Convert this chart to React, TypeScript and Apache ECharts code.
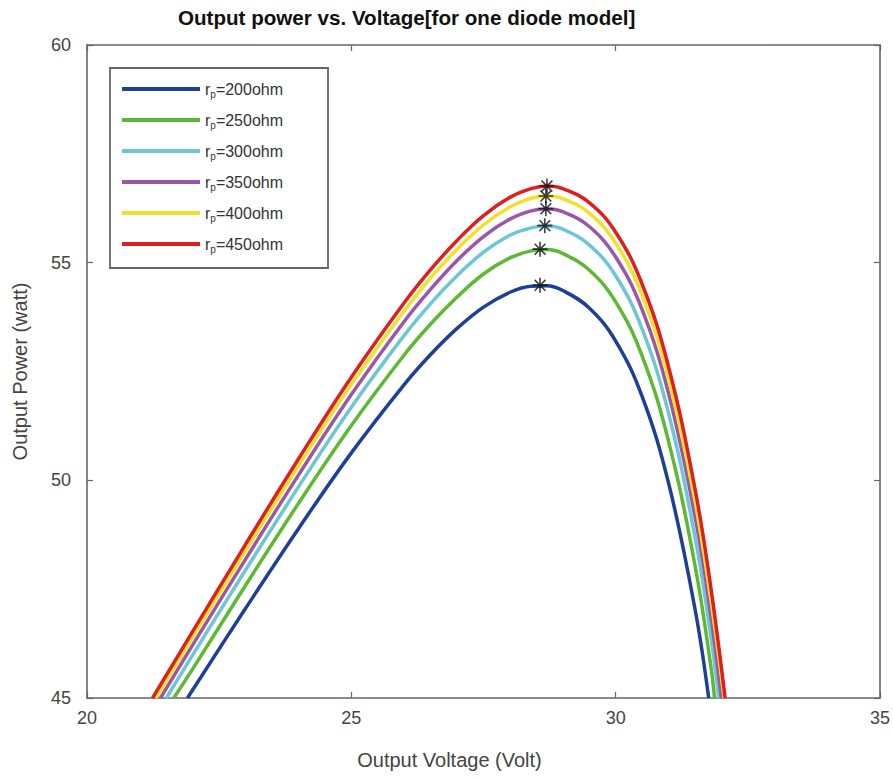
import React, { useEffect, useRef } from "react";
import * as echarts from "echarts";

// Output voltage (V) sample positions
const volts: number[] = [22.0, 23.0, 24.0, 25.0, 26.0, 26.5, 27.0, 27.5, 28.0, 28.4, 28.7, 29.0, 29.5, 30.0, 30.5, 31.0, 31.5, 31.8];

// Output power (W) of each curve at those voltages (null = not sampled / below the axis)
const p200: (number | null)[] = [null, 47.06, 48.89, 50.63, 52.2, 52.89, 53.49, 53.98, 54.32, 54.46, 54.47, 54.36, 53.96, 53.2, 51.93, 49.94, 47.05, null];
const p250: (number | null)[] = [45.67, 47.59, 49.47, 51.26, 52.88, 53.59, 54.21, 54.74, 55.11, 55.27, 55.3, 55.21, 54.83, 54.1, 52.86, 50.9, 48.05, 45.74];
const p300: (number | null)[] = [45.99, 47.94, 49.85, 51.68, 53.33, 54.06, 54.7, 55.24, 55.63, 55.8, 55.85, 55.77, 55.41, 54.7, 53.48, 51.54, 48.71, 46.42];
const p350: (number | null)[] = [46.22, 48.19, 50.12, 51.97, 53.65, 54.39, 55.05, 55.6, 56.0, 56.19, 56.24, 56.17, 55.83, 55.13, 53.92, 52.0, 49.18, 46.9];
const p400: (number | null)[] = [46.4, 48.38, 50.33, 52.2, 53.89, 54.65, 55.31, 55.87, 56.28, 56.48, 56.53, 56.47, 56.14, 55.45, 54.25, 52.34, 49.53, 47.26];
const p450: (number | null)[] = [46.53, 48.53, 50.49, 52.37, 54.08, 54.84, 55.51, 56.08, 56.5, 56.7, 56.76, 56.7, 56.38, 55.7, 54.51, 52.61, 49.81, 47.54];

// voltages where each curve crosses the 45 W axis (left, right)
const startV: number[] = [21.9, 21.64, 21.5, 21.39, 21.3, 21.24];
const endV: number[] = [31.76, 31.87, 31.95, 32.0, 32.05, 32.07];

// maximum power points (asterisks)
const peakV: number[] = [28.57, 28.57, 28.66, 28.68, 28.68, 28.7];
const peakP: number[] = [54.48, 55.31, 55.85, 56.24, 56.53, 56.76];

const seriesNames = ["200", "250", "300", "350", "400", "450"];
const powers = [p200, p250, p300, p350, p400, p450];
const colors = ["#1c3f98", "#5cb932", "#6cc6d6", "#9b56ab", "#f0e22c", "#e01e1e"];
const xTicks = { min: 20, max: 35, interval: 5 };
const yTicks = { min: 45, max: 60, interval: 5 };
const AXIS_MIN_P = 45;

const FONT = "Liberation Sans, Arial, sans-serif";
const ASTERISK = "path://M0,-1L0,1M-1,0L1,0M-0.72,-0.72L0.72,0.72M-0.72,0.72L0.72,-0.72";

export default function App() {
  const ref = useRef<HTMLDivElement>(null);
  useEffect(() => {
    if (!ref.current) return;
    const chart = echarts.init(ref.current, undefined, { renderer: "svg" });
    const axisLine = { show: true, lineStyle: { color: "#666", width: 1.6 } };
    const tick = { show: true, inside: true, length: 6, lineStyle: { color: "#666", width: 1.2 } };
    const lineSeries = powers.map((ps, i) => {
      const pts: number[][] = [[startV[i], AXIS_MIN_P]];
      volts.forEach((v, j) => {
        const p = ps[j];
        if (p != null && v > startV[i] && v < endV[i]) pts.push([v, p]);
      });
      pts.push([endV[i], AXIS_MIN_P]);
      return {
        name: seriesNames[i],
        type: "line",
        data: pts,
        smooth: 0.4,
        showSymbol: false,
        symbol: "none",
        lineStyle: { color: colors[i], width: 3.5 },
        itemStyle: { color: colors[i] },
        z: 2 + i,
      };
    });
    chart.setOption({
      animation: false,
      backgroundColor: "#fff",
      textStyle: { fontFamily: FONT },
      title: {
        text: "Output power vs. Voltage[for one diode model]",
        left: 173,
        top: 2,
        textStyle: { fontFamily: FONT, fontSize: 20.6, fontWeight: "bold", color: "#111" },
      },
      grid: { left: 87, right: 9, top: 45, bottom: 80, containLabel: false },
      graphic: [
        {
          type: "rect",
          shape: { x: 110, y: 68, width: 218, height: 200 },
          style: { fill: "#fff", stroke: "#666", lineWidth: 1.8 },
          z: 50,
        },
      ],
      legend: {
        data: seriesNames,
        orient: "vertical",
        left: 117,
        top: 75,
        itemWidth: 78,
        itemHeight: 4,
        itemGap: 12,
        icon: "rect",
        z: 60,
        formatter: (n: string) => `{a|r}{b|p}{a|=${n}ohm}`,
        textStyle: {
          fontFamily: FONT,
          color: "#333",
          fontSize: 16,
          rich: {
            a: { fontFamily: FONT, fontSize: 16, color: "#333", lineHeight: 20 },
            b: { fontFamily: FONT, fontSize: 10, color: "#333", verticalAlign: "bottom", lineHeight: 20, padding: [9, 0, 0, 0] },
          },
        },
      },
      xAxis: [
        {
          type: "value",
          ...xTicks,
          name: "Output Voltage (Volt)",
          nameLocation: "middle",
          nameGap: 52,
          nameTextStyle: { fontFamily: FONT, fontSize: 20, color: "#444", padding: [0, 68, 0, 0] },
          axisLine,
          axisTick: tick,
          axisLabel: { fontFamily: FONT, fontSize: 18, color: "#444", margin: 11 },
          splitLine: { show: false },
        },
        {
          type: "value",
          ...xTicks,
          position: "top",
          axisLine,
          axisTick: tick,
          axisLabel: { show: false },
          splitLine: { show: false },
        },
      ],
      yAxis: [
        {
          type: "value",
          ...yTicks,
          name: "Output Power (watt)",
          nameLocation: "middle",
          nameGap: 57,
          nameTextStyle: { fontFamily: FONT, fontSize: 20, color: "#444" },
          axisLine,
          axisTick: tick,
          axisLabel: { fontFamily: FONT, fontSize: 18, color: "#444", margin: 16 },
          splitLine: { show: false },
        },
        {
          type: "value",
          ...yTicks,
          position: "right",
          axisLine,
          axisTick: tick,
          axisLabel: { show: false },
          splitLine: { show: false },
        },
      ],
      series: [
        ...lineSeries,
        {
          name: "MPP",
          type: "scatter",
          data: peakV.map((v, i) => [v, peakP[i]]),
          symbol: ASTERISK,
          symbolSize: 15,
          itemStyle: { color: "rgba(0,0,0,0)", borderColor: "#111", borderWidth: 1.6 },
          z: 20,
        },
      ],
    });
    return () => chart.dispose();
  }, []);
  return (
    <div
      ref={ref}
      style={{ position: "absolute", left: 0, top: 0, width: 893, height: 778 }}
    />
  );
}
